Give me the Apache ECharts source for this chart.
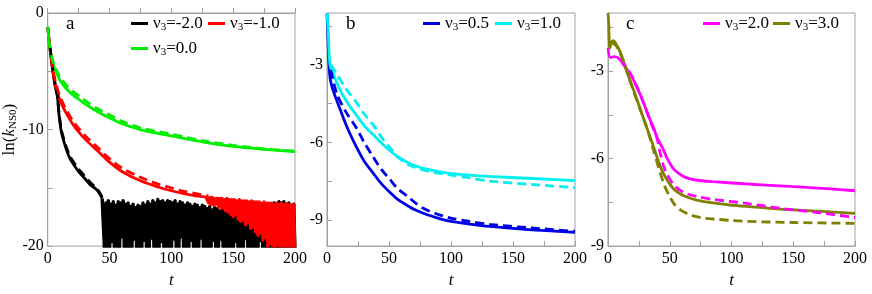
<!DOCTYPE html>
<html><head><meta charset="utf-8">
<script src="https://cdn.jsdelivr.net/npm/echarts@6/dist/echarts.min.js"></script>
<style>html,body{margin:0;padding:0;background:#fff}#c{width:872px;height:294px}</style>
</head><body><div id="c"></div>
<script>
// ---------- Panel a ----------
const aBlackT = [0,1,2,3,4,5,6,7.8,9,11,13,15,18,21,25,30,35,39,42,44];
const aBlackV = [-1.2,-2.2,-3.2,-4.1,-4.9,-5.6,-6.3,-7.2,-8.6,-10.2,-11.0,-11.7,-12.5,-13.0,-13.6,-14.2,-14.8,-15.1,-15.5,-15.9];
const aBlackNoiseT0 = 45; // noise samples start at t=45, one per unit of t
const aBlackNoiseV = [
-16.0,-20.5,-16.3,-20.5,-16.1,-20.5,-16.4,-19.6,-16.2,-20.5,
-16.5,-20.5,-16.2,-20.5,-16.3,-19.2,-16.1,-20.5,-16.4,-20.5,
-16.3,-20.5,-16.6,-20.5,-16.4,-19.4,-16.7,-20.5,-16.5,-20.5,
-16.6,-20.5,-16.3,-19.5,-16.5,-20.5,-16.2,-20.5,-16.4,-19.3,
-16.1,-20.5,-16.3,-20.5,-16.0,-20.5,-16.2,-19.6,-16.1,-20.5,
-16.3,-20.5,-16.1,-20.5,-16.2,-20.5,-16.3,-19.4,-16.1,-20.5,
-16.4,-20.5,-16.2,-19.2,-16.3,-20.5,-16.5,-20.5,-16.3,-20.5,
-16.4,-19.5,-16.6,-20.5,-16.4,-20.5,-16.5,-20.5,-16.7,-19.3,
-16.5,-20.5,-16.6,-20.5,-16.8,-20.5,-16.6,-20.5,-16.9,-19.5,
-16.7,-20.5,-16.8,-20.5,-17.0,-19.4,-16.8,-20.5,-17.1,-20.5,
-16.9,-20.5,-17.2,-20.5,-17.0,-20.5,-17.3,-19.6,-17.1,-20.5,
-17.4,-20.5,-17.2,-20.5,-17.5,-19.3,-17.3,-20.5,-17.1,-20.5,
-17.2,-20.5,-16.9,-20.5,-17.0,-20.5,-16.7,-19.5,-16.8,-20.5,
-16.6,-20.5,-16.7,-20.5,-16.4,-20.5,-16.5,-20.5,-16.3,-20.5,
-16.4,-20.5,-16.2,-20.5,-16.3,-20.5,-16.2,-20.5,-16.4,-20.5,
-16.3,-20.5,-16.5,-20.5,-16.4,-20.5];
const aBlackDashT = [2,3,4,5,6,7.8,9,11,13,15,18,21,25,30,35,39,42,44];
const aBlackDashV = [-3.0,-3.9,-4.7,-5.4,-6.1,-7.0,-8.4,-10.0,-10.8,-11.5,-12.3,-12.8,-13.4,-14.0,-14.6,-15.0,-15.4,-15.8];

const aRedT = [0,1,2,3,4,5,7,10,13,15,20,25,30,40,50,60,75,90,100,110,120,128];
const aRedV = [-1.2,-2.2,-3.2,-4.1,-4.9,-5.6,-6.5,-7.5,-8.2,-8.6,-9.5,-10.2,-10.8,-11.8,-12.8,-13.6,-14.4,-14.95,-15.25,-15.5,-15.7,-15.8];
const aRedNoiseT0 = 129;
const aRedNoiseV = [
-15.8,-16.3,-15.8,-16.4,-15.8,-16.5,-15.9,-16.4,-15.9,-16.6,
-15.9,-16.8,-15.9,-16.7,-16.0,-17.0,-15.9,-17.1,-16.0,-17.3,
-16.0,-17.5,-16.0,-17.3,-16.1,-17.7,-16.0,-17.9,-16.1,-17.8,
-16.1,-18.2,-16.1,-18.0,-16.2,-18.5,-16.1,-18.4,-16.2,-18.8,
-16.2,-19.1,-16.2,-18.9,-16.3,-19.5,-16.2,-19.3,-16.3,-20.5,
-16.3,-19.8,-16.3,-20.5,-16.4,-20.5,-16.3,-19.9,-16.4,-20.5,
-16.3,-20.5,-16.4,-20.5,-16.4,-20.0,-16.4,-20.5,-16.5,-20.5,
-16.4,-20.5];
const aRedDashT = [3,5,7,10,13,15,20,25,30,40,50,60,75,90,100,110,120,130];
const aRedDashV = [-3.9,-5.3,-6.2,-7.2,-7.9,-8.3,-9.2,-9.9,-10.5,-11.5,-12.5,-13.3,-14.1,-14.7,-15.0,-15.3,-15.5,-15.7];

const aGreenT = [0,1,2,3,5,7,10,15,20,25,30,40,50,60,75,90,100,125,150,175,200];
const aGreenV = [-1.2,-2.4,-3.2,-3.8,-4.6,-5.1,-5.8,-6.5,-7.0,-7.4,-7.8,-8.45,-9.0,-9.5,-10.0,-10.35,-10.55,-11.05,-11.45,-11.7,-11.9];
const aGreenDashT = [3,5,7,10,15,20,25,30,40,50,60,75,90,100,125,150,175,200];
const aGreenDashV = [-3.6,-4.4,-4.9,-5.5,-6.2,-6.7,-7.1,-7.5,-8.2,-8.75,-9.3,-9.85,-10.2,-10.4,-10.95,-11.35,-11.65,-11.85];

// ---------- Panel b ----------
const bCyanT = [0,1,2.4,5,10.5,17,24,30,37.4,44,50.8,57,64.3,71,77.7,88,99,115,131,165,200];
const bCyanV = [-1.0,-1.75,-3.0,-3.35,-3.97,-4.5,-4.96,-5.35,-5.7,-6.03,-6.32,-6.55,-6.75,-6.9,-7.0,-7.1,-7.19,-7.26,-7.31,-7.39,-7.47];
const bCyanDashT = [3,7.8,15,24,30,37.4,44,50.8,57,64,71,77.7,88,99,115,131,165,200];
const bCyanDashV = [-3.0,-3.36,-3.9,-4.47,-4.9,-5.33,-5.8,-6.2,-6.55,-6.81,-6.96,-7.06,-7.17,-7.25,-7.37,-7.49,-7.62,-7.74];
const bBlueT = [0,1,2.4,5,10.5,17,24,30,37.4,44,50.8,57,64.3,71,77.7,88,99,115,131,165,200];
const bBlueV = [-1.0,-2.3,-3.48,-4.0,-4.71,-5.5,-6.2,-6.72,-7.19,-7.6,-7.93,-8.2,-8.42,-8.6,-8.73,-8.9,-9.04,-9.15,-9.24,-9.37,-9.47];
const bBlueDashT = [3,7.8,15,24,30,37.4,44,50.8,57,64.3,71,77.7,88,99,115,131,165,200];
const bBlueDashV = [-3.2,-4.1,-4.8,-5.46,-6.0,-6.57,-7.05,-7.43,-7.78,-8.05,-8.32,-8.54,-8.75,-8.91,-9.05,-9.16,-9.3,-9.43];

// ---------- Panel c ----------
const cOliveT = [0,0.5,1.5,3,4.3,7,10,12.4,16,20.5,24.5,28.6,32.6,36.7,42,46,50.2,54,58.3,65,71.8,85,98.8,120,139,170,200];
const cOliveV = [-1.0,-1.3,-2.2,-1.99,-1.95,-2.1,-2.35,-2.64,-3.1,-3.62,-4.1,-4.6,-5.08,-5.57,-6.23,-6.6,-6.88,-7.07,-7.2,-7.33,-7.42,-7.52,-7.59,-7.66,-7.73,-7.8,-7.88];
const cOliveDashT = [3,7,12,20,26,31.3,36.7,42,46,50.2,54,58.3,65,71.8,78,85.3,100,112,150,200];
const cOliveDashV = [-2.0,-2.15,-2.6,-3.6,-4.3,-4.92,-5.68,-6.45,-6.95,-7.32,-7.58,-7.75,-7.9,-7.99,-8.04,-8.07,-8.12,-8.15,-8.19,-8.22];
const cMagT = [0,1.9,5,9.7,13,17.8,23,28.6,33,36.7,40,44.8,48,52.9,58,63.7,72,85.3,110,139,170,200];
const cMagV = [-2.2,-2.53,-2.5,-2.59,-2.8,-3.08,-3.5,-4.06,-4.55,-4.92,-5.3,-5.68,-6.0,-6.34,-6.53,-6.66,-6.74,-6.79,-6.86,-6.93,-7.01,-7.1];
const cMagDashT = [10,17.8,23,28,31.3,35,39.4,42,44.8,48,52.9,58,63.7,72,85.3,112,139,170,200];
const cMagDashV = [-2.6,-3.05,-3.5,-4.0,-4.38,-4.8,-5.25,-5.75,-6.23,-6.55,-6.88,-7.07,-7.2,-7.3,-7.4,-7.53,-7.7,-7.85,-8.02];

// ---------- Labels ----------
const panelLabels = ['a','b','c'];
const xTickLabels = [0,50,100,150,200];
const yLabelsA = [0,-10,-20];
const yLabelsB = [-3,-6,-9];
const yLabelsC = [-3,-6,-9];
const legendNames = ['ν3=-2.0','ν3=-1.0','ν3=0.0','ν3=0.5','ν3=1.0','ν3=2.0','ν3=3.0'];

// ---------- helpers ----------
function pairs(t, v){ return t.map((x,i)=>[x, v[i]]); }
function seqPairs(t0, v){ return v.map((y,i)=>[t0+i, y]); }

const FONT = 'Liberation Serif';
const GRAY = '#a0a0a0';
const grids = [
  {left:47, top:13, width:248, height:243},
  {left:327, top:13, width:248, height:243},
  {left:608, top:13, width:247, height:243}
].map(g=>Object.assign(g,{show:true, borderColor:GRAY, borderWidth:1}));

function xAxis(i){
  return {type:'value', gridIndex:i, min:0, max:200,
    axisLine:{lineStyle:{color:GRAY}},
    axisTick:{inside:true, length:5, lineStyle:{color:GRAY}, customValues:[0,25,50,75,100,125,150,175,200]},
    axisLabel:{color:'#000', fontFamily:FONT, fontSize:16, margin:5, customValues:xTickLabels},
    splitLine:{show:false},
    name:'t', nameLocation:'middle', nameGap:22,
    nameTextStyle:{fontFamily:FONT, fontSize:17, fontStyle:'italic', color:'#000'}};
}
function yAxis(i, min, max, labels, ticks){
  return {type:'value', gridIndex:i, min:min, max:max,
    axisLine:{lineStyle:{color:GRAY}},
    axisTick:{inside:true, length:5, lineStyle:{color:GRAY}, customValues:ticks},
    axisLabel:{color:'#000', fontFamily:FONT, fontSize:16, margin:4, customValues:labels},
    splitLine:{show:false}};
}
const yA = yAxis(0,-20,0,yLabelsA,[-20,-15,-10,-5,0]);
yA.name = '{a|ln(}{i|k}{s|NS0}{a|)}';
yA.nameLocation = 'middle';
yA.nameGap = 28;
yA.nameRotate = 90;
yA.nameTextStyle = {fontFamily:FONT, rich:{
  a:{fontFamily:FONT, fontSize:17, color:'#000', lineHeight:18},
  i:{fontFamily:FONT, fontSize:17, fontStyle:'italic', color:'#000', lineHeight:18},
  s:{fontFamily:FONT, fontSize:11, color:'#000', lineHeight:11, verticalAlign:'bottom'}
}};

function line(name, xi, data, color, dashed, extra){
  return Object.assign({name:name, type:'line', xAxisIndex:xi, yAxisIndex:xi, data:data,
    showSymbol:false, symbol:'none', smooth:0.3, clip:true, animation:false,
    lineStyle:{color:color, width:2.8, type: dashed ? [9,5] : 'solid'},
    itemStyle:{color:color}, z: dashed ? 3 : 2}, extra||{});
}
function noise(name, xi, data, color, width){
  return line(name, xi, data, color, false, {smooth:false, lineStyle:{color:color, width:width, type:'solid', join:'round'}});
}

const series = [
  // panel a
  line(legendNames[0],0,pairs(aBlackT,aBlackV),'#000000',false),
  noise(legendNames[0],0,[[aBlackT[aBlackT.length-1],aBlackV[aBlackV.length-1]]].concat(seqPairs(aBlackNoiseT0,aBlackNoiseV)),'#000000',3.4),
  line(legendNames[0],0,pairs(aBlackDashT,aBlackDashV),'#000000',true),
  line(legendNames[1],0,pairs(aRedT,aRedV),'#ff0000',false),
  noise(legendNames[1],0,[[aRedT[aRedT.length-1],aRedV[aRedV.length-1]]].concat(seqPairs(aRedNoiseT0,aRedNoiseV)),'#ff0000',3.0),
  line(legendNames[1],0,pairs(aRedDashT,aRedDashV),'#ff0000',true),
  line(legendNames[2],0,pairs(aGreenT,aGreenV),'#00ee00',false),
  line(legendNames[2],0,pairs(aGreenDashT,aGreenDashV),'#00ee00',true),
  // panel b
  line(legendNames[3],1,pairs(bBlueT,bBlueV),'#0000e6',false),
  line(legendNames[3],1,pairs(bBlueDashT,bBlueDashV),'#0000e6',true),
  line(legendNames[4],1,pairs(bCyanT,bCyanV),'#00f0f0',false),
  line(legendNames[4],1,pairs(bCyanDashT,bCyanDashV),'#00f0f0',true),
  // panel c
  line(legendNames[5],2,pairs(cMagT,cMagV),'#ff00ff',false),
  line(legendNames[5],2,pairs(cMagDashT,cMagDashV),'#ff00ff',true),
  line(legendNames[6],2,pairs(cOliveT,cOliveV),'#808000',false),
  line(legendNames[6],2,pairs(cOliveDashT,cOliveDashV),'#808000',true)
];

const legendRich = {
  a:{fontFamily:FONT, fontSize:17, color:'#000', lineHeight:18},
  s:{fontFamily:FONT, fontSize:11, color:'#000', lineHeight:11, verticalAlign:'bottom'}
};
function legend(name, left, top){
  return {data:[name], left:left, top:top, orient:'horizontal', padding:0,
    icon:'rect', itemWidth:17, itemHeight:3, itemGap:0, selectedMode:false,
    formatter:function(n){ return '{a|ν}{s|3}{a|' + n.slice(2) + '}'; },
    textStyle:{fontFamily:FONT, rich:legendRich}};
}
const legends = [
  legend(legendNames[0],131,15),
  legend(legendNames[1],208,15),
  legend(legendNames[2],131,40),
  legend(legendNames[3],423,15),
  legend(legendNames[4],495,15),
  legend(legendNames[5],703,15),
  legend(legendNames[6],773,15)
];

const titles = panelLabels.map((t,i)=>({text:t, left:[66,346,626][i], top:15, padding:0,
  textStyle:{fontFamily:FONT, fontSize:19, fontWeight:'normal', color:'#000'}}));

const chart = echarts.init(document.getElementById('c'), null, {renderer:'canvas'});
chart.setOption({
  animation:false,
  backgroundColor:'#fff',
  textStyle:{fontFamily:FONT},
  title:titles,
  grid:grids,
  xAxis:[xAxis(0),xAxis(1),xAxis(2)],
  yAxis:[yA, yAxis(1,-10,-1,yLabelsB,[-9,-7.5,-6,-4.5,-3,-1.5]), yAxis(2,-9,-1,yLabelsC,[-9,-7.5,-6,-4.5,-3,-1.5])],
  legend:legends,
  series:series
});
</script></body></html>
